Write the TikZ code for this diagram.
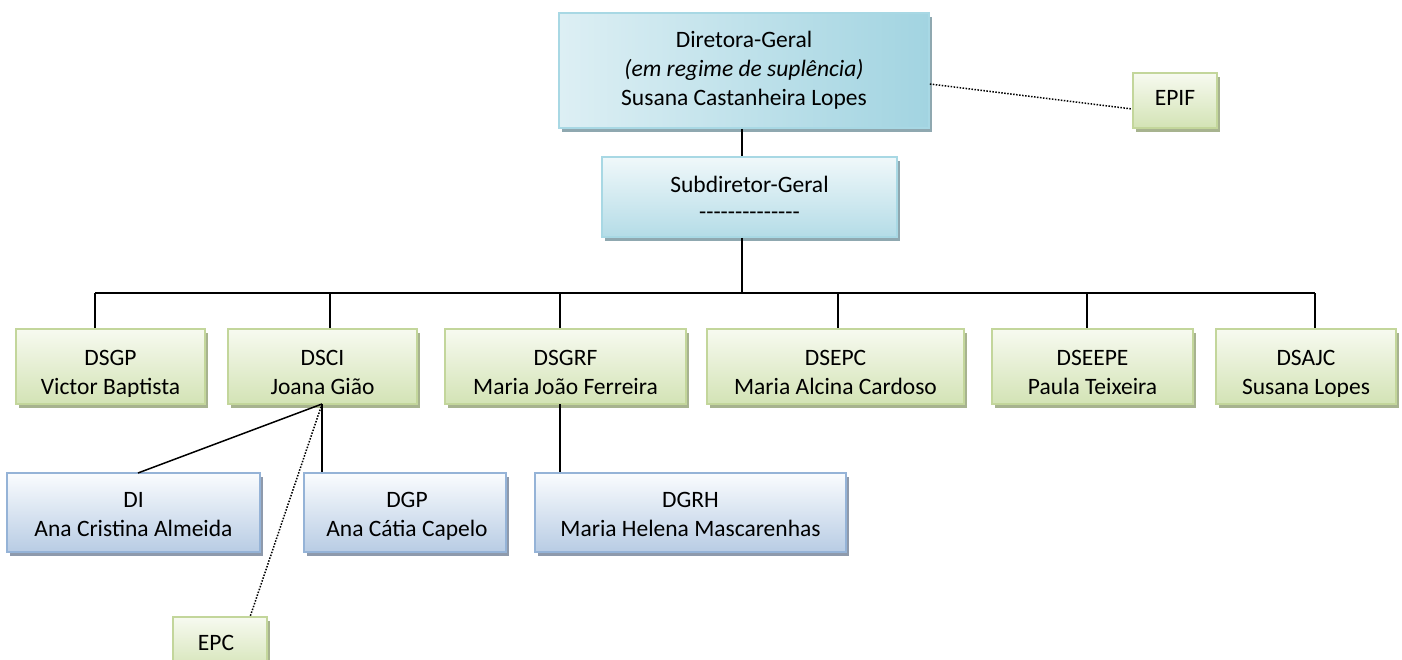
\documentclass[tikz,border=0pt]{standalone}
\usepackage{fontspec}
\setmainfont{Carlito}
\usetikzlibrary{shadows}
\definecolor{gtop}{HTML}{F7FAF0}
\definecolor{gbot}{HTML}{D3E3B5}
\definecolor{gborder}{HTML}{C3D69B}
\definecolor{gshadow}{HTML}{A7B38F}
\definecolor{btop}{HTML}{FAFCFE}
\definecolor{bbot}{HTML}{B8CCE4}
\definecolor{bborder}{HTML}{95B3D7}
\definecolor{bshadow}{HTML}{8E9AAC}
\definecolor{ctop}{HTML}{F0F8FA}
\definecolor{cbot}{HTML}{B4DCE7}
\definecolor{cleft}{HTML}{DDEFF4}
\definecolor{cright}{HTML}{A2D4E1}
\definecolor{cborder}{HTML}{A8D8E4}
\definecolor{cshadow}{HTML}{8FA8B0}
\begin{document}
\begin{tikzpicture}[x=1pt,y=-1pt,
  boxbase/.style={draw, line width=1.6pt, inner sep=0pt},
  gbox/.style={boxbase, draw=gborder, top color=gtop, bottom color=gbot,
    drop shadow={shadow xshift=3pt, shadow yshift=-4pt, fill=gshadow, opacity=1}},
  bbox/.style={boxbase, draw=bborder, top color=btop, bottom color=bbot,
    drop shadow={shadow xshift=3pt, shadow yshift=-4pt, fill=bshadow, opacity=1}},
  cbox/.style={boxbase, draw=cborder, top color=ctop, bottom color=cbot,
    drop shadow={shadow xshift=3pt, shadow yshift=-4pt, fill=cshadow, opacity=1}},
  dgbox/.style={boxbase, draw=cborder, left color=cleft, right color=cright,
    drop shadow={shadow xshift=3pt, shadow yshift=-4pt, fill=cshadow, opacity=1}},
  txt/.style={font=\fontsize{23.5}{29}\selectfont, inner sep=0pt, anchor=base, align=center, text=black},
  conn/.style={line width=1.5pt, black},
  dotl/.style={line width=1.5pt, black, dash pattern=on 1.5pt off 1.5pt}
]
\useasboundingbox[fill=white] (0,0) rectangle (1402,660);

% boxes
\node[dgbox, minimum width=370pt, minimum height=115pt] (dg) at (744,70.5) {};
\node[cbox, minimum width=295pt, minimum height=80pt] (sub) at (749.5,197) {};
\node[gbox, minimum width=84pt, minimum height=55pt] (epif) at (1175,100.5) {};

\node[gbox, minimum width=189pt, minimum height=75pt] (dsgp) at (110.5,366.5) {};
\node[gbox, minimum width=189pt, minimum height=75pt] (dsci) at (322.5,366.5) {};
\node[gbox, minimum width=241pt, minimum height=75pt] (dsgrf) at (565.5,366.5) {};
\node[gbox, minimum width=257pt, minimum height=75pt] (dsepc) at (835.5,366.5) {};
\node[gbox, minimum width=201pt, minimum height=75pt] (dseepe) at (1092.5,366.5) {};
\node[gbox, minimum width=180pt, minimum height=75pt] (dsajc) at (1306,366.5) {};

\node[bbox, minimum width=253pt, minimum height=79pt] (di) at (133.5,512.5) {};
\node[bbox, minimum width=202pt, minimum height=79pt] (dgp) at (405,512.5) {};
\node[bbox, minimum width=311pt, minimum height=79pt] (dgrh) at (690.5,512.5) {};
\node[gbox, minimum width=94pt, minimum height=55pt] (epc) at (220,644.5) {};

% texts (anchor base = baseline of last line)
\node[txt] (tdg) at (744,106) {Diretora-Geral\\\textit{(em regime de suplência)}\\Susana Castanheira Lopes};
\node[txt] (tsub) at (749.5,220) {Subdiretor-Geral\\[-2pt]-{}-{}-{}-{}-{}-{}-{}-{}-{}-{}-{}-{}-{}-};
\node[txt] (tepif) at (1175,106) {EPIF};
\begin{scope}
\clip (0,329) rectangle (1402,396.5);
\node[txt] (tdsgp) at (110.5,394) {DSGP\\Victor Baptista};
\node[txt] (tdsci) at (322.5,394) {DSCI\\Joana Gião};
\node[txt] (tdsgrf) at (565.5,394) {DSGRF\\Maria João Ferreira};
\node[txt] (tdsepc) at (835.5,394) {DSEPC\\Maria Alcina Cardoso};
\node[txt] (tdseepe) at (1092.5,394) {DSEEPE\\Paula Teixeira};
\node[txt] (tdsajc) at (1306,394) {DSAJC\\Susana Lopes};
\end{scope}
\node[txt] (tdi) at (133.5,536) {DI\\Ana Cristina Almeida};
\node[txt] (tdgp) at (407,536) {DGP\\Ana Cátia Capelo};
\node[txt] (tdgrh) at (690.5,536) {DGRH\\Maria Helena Mascarenhas};
\node[txt] (tepc) at (216,650) {EPC};

% connectors
\coordinate (c0) at (742,293);
\coordinate (c1) at (95,293);
\coordinate (c2) at (330,293);
\coordinate (c3) at (560,293);
\coordinate (c4) at (838,293);
\coordinate (c5) at (1087,293);
\coordinate (c6) at (1315,293);
\draw[conn] (c0 |- dg.south) -- (c0 |- sub.north);
\draw[conn] (c0 |- sub.south) -- (c0);
\draw[conn] (c1) -- (c6);
\draw[conn] (c1) -- (c1 |- dsgp.north);
\draw[conn] (c2) -- (c2 |- dsci.north);
\draw[conn] (c3) -- (c3 |- dsgrf.north);
\draw[conn] (c4) -- (c4 |- dsepc.north);
\draw[conn] (c5) -- (c5 |- dseepe.north);
\draw[conn] (c6) -- (c6 |- dsajc.north);

\coordinate (p) at (322,404);
\coordinate (q) at (138,473);
\coordinate (r) at (560,404);
\coordinate (s) at (250,617);
\draw[conn] (p) -- (q);
\draw[conn] (p) -- (p |- dgp.north);
\draw[conn] (r) -- (r |- dgrh.north);
\draw[dotl] (p) -- (s);
\draw[dotl] (dg.east |- 0,84) -- (epif.west |- 0,109);
\end{tikzpicture}
\end{document}
